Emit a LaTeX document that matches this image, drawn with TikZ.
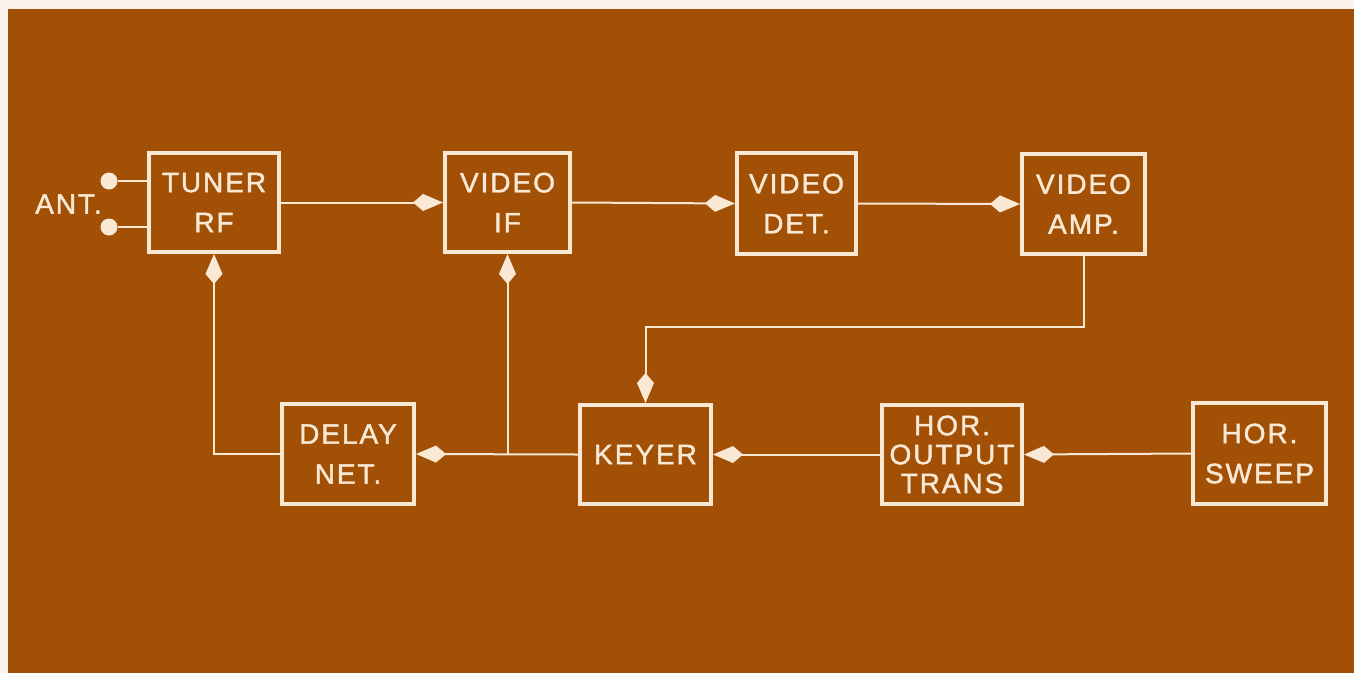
\documentclass[tikz,border=0pt]{standalone}
\usepackage{fontspec}
\setmainfont{Liberation Sans}[LetterSpace=7,FakeBold=1.5]
\usetikzlibrary{arrows.meta}
\definecolor{bgbrown}{RGB}{162,80,6}
\definecolor{cream}{RGB}{248,232,212}
\definecolor{paper}{RGB}{250,244,236}
\tikzset{
  box/.style={draw=cream, line width=4pt, text=cream, align=center, inner sep=0pt,
    font=\fontsize{28}{40}\selectfont},
  conn/.style={draw=cream, line width=2pt},
  arr/.style={conn, -{Kite[length=30pt,width=17pt,inset=10pt,fill=cream]}},
  term/.style={circle, fill=cream, inner sep=0pt, minimum size=17pt},
}
\begin{document}
\begin{tikzpicture}[x=1pt,y=-1pt]
\useasboundingbox (0,0) rectangle (1354,673);
\fill[paper] (0,0) rectangle (1354,673);
\fill[bgbrown] (8,9) rectangle (1354,673);

\node[box, minimum width=130pt, minimum height=99pt] (tuner) at (214,202.5) {TUNER\\RF};
\node[box, minimum width=125pt, minimum height=99pt] (vif) at (507.5,202.5) {VIDEO\\IF};
\node[box, minimum width=119pt, minimum height=101pt] (vdet) at (796.5,203.5) {VIDEO\\DET.};
\node[box, minimum width=123pt, minimum height=100pt] (vamp) at (1083.5,204) {VIDEO\\AMP.};
\node[box, minimum width=132pt, minimum height=100pt] (delay) at (348,454) {DELAY\\NET.};
\node[box, minimum width=131pt, minimum height=99pt] (keyer) at (645.5,454.5) {KEYER};
\node[box, minimum width=140pt, minimum height=99pt, font=\fontsize{28}{29}\selectfont] (hout) at (952,454.5) {HOR.\\OUTPUT\\TRANS};
\node[box, minimum width=133pt, minimum height=101pt] (hsweep) at (1259.5,453.5) {HOR.\\SWEEP};

\node[term] (a1) at (109,181) {};
\node[term] (a2) at (109,227) {};
\node[anchor=east, text=cream, inner sep=0pt, font=\fontsize{28}{40}\selectfont] (ant) at (102,204) {ANT.};
\draw[conn] (a1) -- (a1 -| tuner.west);
\draw[conn] (a2) -- (a2 -| tuner.west);

\draw[arr] (tuner.east) -- (vif.west);
\draw[arr] (vif.east) -- (vdet.west);
\draw[arr] (vdet.east) -- (vamp.west);
\coordinate (bend) at (0,327);
\draw[arr] (vamp.south) -- (vamp.south |- bend) -- (keyer.north |- bend) -- (keyer.north);
\draw[arr] (hsweep.west) -- (hout.east);
\draw[arr] (hout.west) -- (keyer.west -| hout.west) -- (keyer.east);
\draw[arr] (keyer.west) -- (delay.east);
\coordinate (br) at (vif.south |- keyer.west);
\draw[arr] (br) -- (vif.south);
\draw[arr] (delay.west) -| (tuner.south);
\end{tikzpicture}
\end{document}
